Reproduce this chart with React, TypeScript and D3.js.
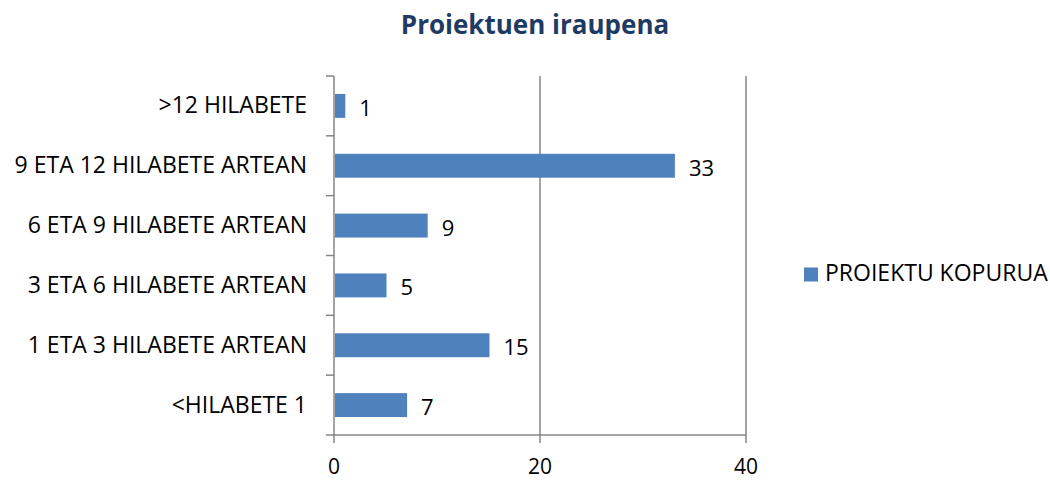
import React from "react";
import * as d3 from "d3";

const categories = [
  ">12 HILABETE",
  "9 ETA 12 HILABETE ARTEAN",
  "6 ETA 9 HILABETE ARTEAN",
  "3 ETA 6 HILABETE ARTEAN",
  "1 ETA 3 HILABETE ARTEAN",
  "<HILABETE 1",
];
const values = [1, 33, 9, 5, 15, 7];
const xTicks = [0, 20, 40];
const title = "Proiektuen iraupena";
const seriesName = "PROIEKTU KOPURUA";

export default function App() {
  const W = 1050, H = 480;
  const left = 334, right = 746, top = 76, bottom = 435;
  const x = d3.scaleLinear().domain([0, 40]).range([left, right]);
  const y = d3.scaleBand<string>().domain(categories).range([top, bottom]).paddingInner(0.6).paddingOuter(0.3);
  const yb = d3.scaleBand<string>().domain(categories).range([top, bottom]);
  const grid = "#868686";
  const font = "'Open Sans', 'Liberation Sans', sans-serif";
  return (
    <svg width={W} height={H} style={{ position: "absolute", left: 0, top: 0 }}>
      <rect width={W} height={H} fill="#fff" />
      <text x={535} y={34} textAnchor="middle" fontFamily={font} fontWeight="bold" fontSize={26} fill="#1F3B63">{title}</text>
      {xTicks.filter(t => t > 0).map(t => (
        <line key={t} x1={x(t)} x2={x(t)} y1={top} y2={bottom + 8} stroke={grid} strokeWidth={1.5} />
      ))}
      <line x1={left} x2={left} y1={top} y2={bottom + 8} stroke={grid} strokeWidth={1.5} />
      <line x1={left - 8} x2={right} y1={bottom} y2={bottom} stroke={grid} strokeWidth={1.5} />
      {categories.map(c => (
        <line key={c} x1={left - 8} x2={left} y1={yb(c)!} y2={yb(c)!} stroke={grid} strokeWidth={1.5} />
      ))}
      {categories.map((c, i) => (
        <g key={c}>
          <rect x={x(0) + 1} y={y(c)!} width={x(values[i]) - x(0)} height={y.bandwidth()} fill="#4F81BD" />
          <text x={x(values[i]) + 15} y={y(c)! + y.bandwidth() / 2 + 10} fontFamily={font} fontSize={22} fill="#000">{values[i]}</text>
          <text x={307} y={y(c)! + y.bandwidth() / 2 + 7.5} textAnchor="end" fontFamily={font} fontSize={23} fill="#000">{c}</text>
        </g>
      ))}
      {xTicks.map(t => (
        <text key={t} x={x(t)} y={474} textAnchor="middle" fontFamily={font} fontSize={21} fill="#000">{t}</text>
      ))}
      <rect x={804} y={267.5} width={14} height={14} fill="#4F81BD" />
      <text x={825} y={281} fontFamily={font} fontSize={23} fill="#000">{seriesName}</text>
    </svg>
  );
}
